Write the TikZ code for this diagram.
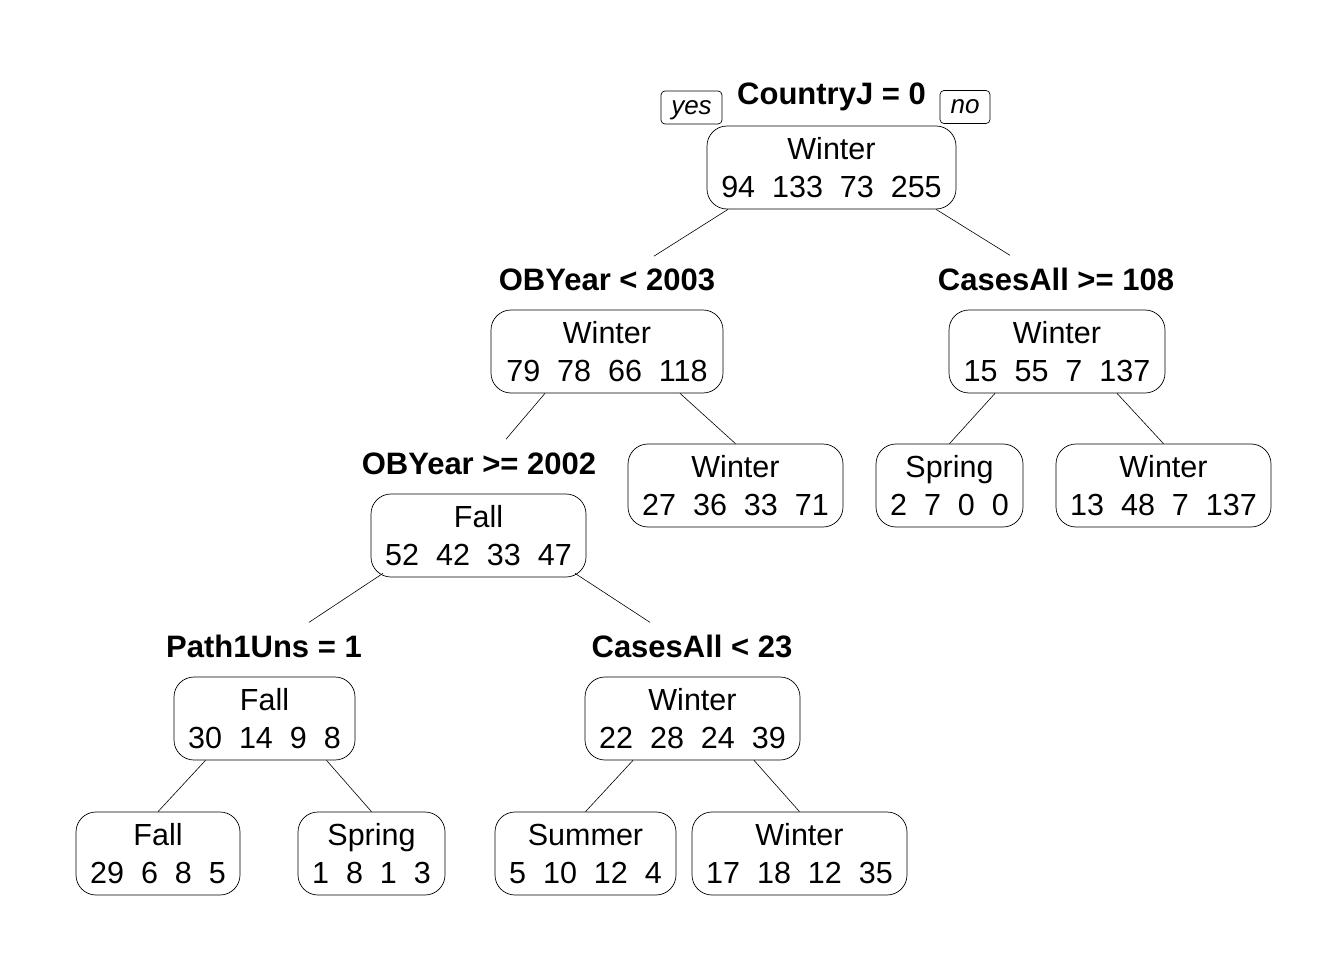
\documentclass[tikz,border=0pt]{standalone}
\usepackage{fontspec}
\setmainfont{Liberation Sans}
\usetikzlibrary{calc}
\begin{document}
\begin{tikzpicture}[x=1pt,y=-1pt,
  box/.style={draw, line width=0.7pt, rounded corners=20pt, inner sep=0pt,
    minimum height=83pt, align=center,
    font=\fontsize{30.5}{38}\selectfont},
  split/.style={anchor=base, inner sep=0pt, font=\fontsize{31}{36}\selectfont\bfseries},
  yn/.style={draw, line width=0.7pt, rounded corners=4pt, inner sep=0pt,
    minimum height=33pt, text height=13.5pt, text depth=0pt,
    font=\fontsize{26}{28}\selectfont\itshape},
  edge/.style={line width=0.6pt}]
\useasboundingbox (0,0) rectangle (1344,960);
% root
\node[split] (l1) at (831.5,105) {CountryJ = 0};
\node[yn, minimum width=61pt] (yes) at (691.5,107.5) {yes};
\node[yn, minimum width=50pt] (no) at (965,107) {no};
\node[box, minimum width=249pt] (n1) at (831.5,167.5) {Winter\\94\ \ 133\ \ 73\ \ 255};
% level 2
\node[split] (l2) at (607,290) {OBYear < 2003};
\node[box, minimum width=232pt] (n2) at (607,351.5) {Winter\\79\ \ 78\ \ 66\ \ 118};
\node[split] (l3) at (1056,290) {CasesAll >= 108};
\node[box, minimum width=216pt] (n3) at (1057,351.5) {Winter\\15\ \ 55\ \ 7\ \ 137};
% level 3
\node[split] (l4) at (479,474) {OBYear >= 2002};
\node[box, minimum width=215pt] (n4) at (478.5,535.5) {Fall\\52\ \ 42\ \ 33\ \ 47};
\node[box, minimum width=215pt] (n5) at (735.5,485.5) {Winter\\27\ \ 36\ \ 33\ \ 71};
\node[box, minimum width=147pt] (n6) at (949.5,485.5) {Spring\\2\ \ 7\ \ 0\ \ 0};
\node[box, minimum width=215pt] (n7) at (1163.5,485.5) {Winter\\13\ \ 48\ \ 7\ \ 137};
% level 4
\node[split] (l8) at (264,657) {Path1Uns = 1};
\node[box, minimum width=181pt] (n8) at (264.5,718.5) {Fall\\30\ \ 14\ \ 9\ \ 8};
\node[split] (l9) at (692,657) {CasesAll < 23};
\node[box, minimum width=215pt] (n9) at (692.5,718.5) {Winter\\22\ \ 28\ \ 24\ \ 39};
% leaves
\node[box, minimum width=164pt] (n10) at (158,853.5) {Fall\\29\ \ 6\ \ 8\ \ 5};
\node[box, minimum width=147pt] (n11) at (371.5,853.5) {Spring\\1\ \ 8\ \ 1\ \ 3};
\node[box, minimum width=181pt] (n12) at (585.5,853.5) {Summer\\5\ \ 10\ \ 12\ \ 4};
\node[box, minimum width=215pt] (n13) at (799.5,853.5) {Winter\\17\ \ 18\ \ 12\ \ 35};
% edges
\draw[edge] ($(n1.south)+(-103.5,0)$) -- ($(l2.north)+(47,-12)$);
\draw[edge] ($(n1.south)+(104.5,0)$) -- ($(l3.north)+(-46,-12)$);
\draw[edge] ($(n2.south)+(-62,0)$) -- ($(l4.north)+(27,-13)$);
\draw[edge] ($(n2.south)+(73,0)$) -- (n5.north);
\draw[edge] ($(n3.south)+(-62,0)$) -- (n6.north);
\draw[edge] ($(n3.south)+(60,0)$) -- (n7.north);
\draw[edge] ($(n4.south)+(-95.5,-4)$) -- ($(l8.north)+(45,-12)$);
\draw[edge] ($(n4.south)+(96.5,-4)$) -- ($(l9.north)+(-42,-12)$);
\draw[edge] ($(n8.south)+(-59,0)$) -- (n10.north);
\draw[edge] ($(n8.south)+(62,0)$) -- (n11.north);
\draw[edge] ($(n9.south)+(-59.5,0)$) -- (n12.north);
\draw[edge] ($(n9.south)+(61.5,0)$) -- (n13.north);
\end{tikzpicture}
\end{document}
